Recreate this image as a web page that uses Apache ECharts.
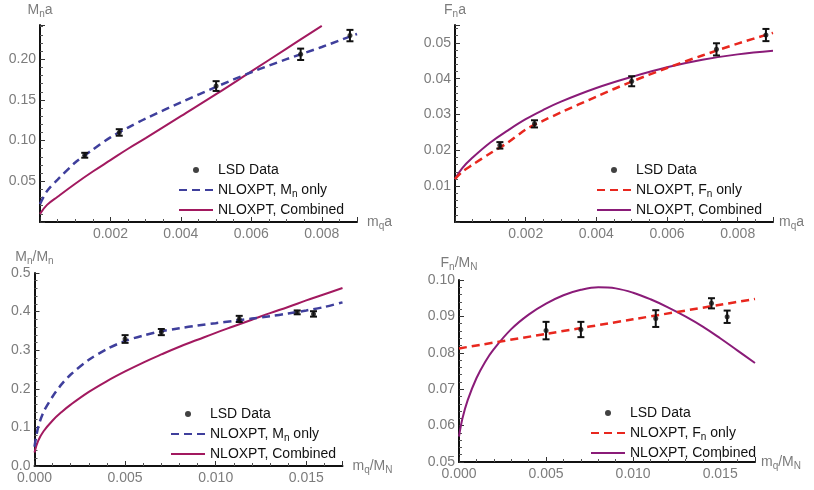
<!DOCTYPE html>
<html>
<head>
<meta charset="utf-8">
<script src="https://cdn.jsdelivr.net/npm/echarts@6/dist/echarts.min.js"></script>
<style>
html,body{margin:0;padding:0;background:#fff;}
#chart{width:814px;height:490px;}
</style>
</head>
<body>
<div id="chart"></div>
<script>
// ---------- data ----------
// lattice points (top row: x = m_q a)
const xTop = [0.00127, 0.00225, 0.0050, 0.0074, 0.0088];
const mnaVal = [0.082, 0.110, 0.167, 0.206, 0.229];
const mnaErr = [0.003, 0.004, 0.006, 0.007, 0.007];
const fnaVal = [0.0214, 0.0274, 0.0393, 0.0482, 0.0522];
const fnaErr = [0.0009, 0.0010, 0.0014, 0.0017, 0.0017];
// lattice points (bottom row: x = m_q / M_N)
const xBot = [0.0050, 0.0070, 0.0113, 0.0145, 0.0154];
const mrVal = [0.329, 0.347, 0.381, 0.398, 0.394];
const mrErr = [0.010, 0.008, 0.008, 0.005, 0.007];
const frVal = [0.0861, 0.0864, 0.0894, 0.0936, 0.0899];
const frErr = [0.0024, 0.0021, 0.0023, 0.0014, 0.0017];

// fit curves, top row
const cxTop = [0, 0.0002, 0.0005, 0.001, 0.0015, 0.002, 0.0025, 0.003, 0.004, 0.005, 0.006, 0.007, 0.008, 0.009];
const mnaFit = [0.022, 0.038, 0.052, 0.073, 0.089, 0.104, 0.116, 0.127, 0.147, 0.166, 0.184, 0.200, 0.215, 0.231];
const mnaComb = [0.010, 0.021, 0.031, 0.047, 0.062, 0.076, 0.090, 0.103, 0.130, 0.157, 0.185, 0.213, 0.241, null];
const fnaFit = [0.0120, 0.0140, 0.0160, 0.0192, 0.0222, 0.0258, 0.0283, 0.0306, 0.0350, 0.0392, 0.0430, 0.0465, 0.0498, 0.0528];
const fnaComb = [0.0120, 0.0150, 0.0180, 0.0222, 0.0256, 0.0287, 0.0313, 0.0336, 0.0374, 0.0405, 0.0432, 0.0453, 0.0468, 0.0478];

// fit curves, bottom row
const cxBot = [0, 0.0002, 0.0005, 0.001, 0.0015, 0.002, 0.003, 0.004, 0.005, 0.006, 0.007, 0.008, 0.009, 0.010, 0.011, 0.012, 0.013, 0.014, 0.015, 0.016, 0.017];
const mrFit = [0.050, 0.100, 0.140, 0.180, 0.212, 0.237, 0.275, 0.303, 0.324, 0.338, 0.349, 0.357, 0.364, 0.370, 0.376, 0.382, 0.388, 0.395, 0.403, 0.412, 0.424];
const mrComb = [0.035, 0.065, 0.090, 0.118, 0.140, 0.159, 0.192, 0.220, 0.245, 0.268, 0.289, 0.309, 0.327, 0.345, 0.362, 0.379, 0.396, 0.412, 0.429, 0.445, 0.461];
const frComb = [0.0570, 0.0620, 0.0670, 0.0730, 0.0775, 0.0810, 0.0865, 0.0905, 0.0935, 0.0958, 0.0973, 0.0980, 0.0977, 0.0965, 0.0947, 0.0925, 0.0900, 0.0872, 0.0840, 0.0806, 0.0772];
const cxFrFit = [0, 0.005, 0.010, 0.015, 0.017];
const frFit = [0.0812, 0.0852, 0.0892, 0.0932, 0.0948];

// tick settings
const xTicksTop = {min: 0, max: 0.009, interval: 0.002};
const xTicksBot = {min: 0, max: 0.017, interval: 0.005};
const yTicksTL = {min: 0, max: 0.242, interval: 0.05};
const yTicksTR = {min: 0, max: 0.055, interval: 0.01};
const yTicksBL = {min: 0, max: 0.5, interval: 0.1};
const yTicksBR = {min: 0.05, max: 0.10, interval: 0.01};

// ---------- styling ----------
const BLUE = '#3f3f9c';
const RED = '#e8271e';
const CRIMSON = '#a2195f';
const PURPLE = '#8a1b78';
const LABEL = '#7c7c7c';
const FONT = 'Liberation Sans, Arial, sans-serif';

const pairs = (xs, ys) => xs.map((x, i) => [x, ys[i]]);
const errData = (xs, v, e) => xs.map((x, i) => [x, v[i] - e[i], v[i] + e[i]]);

const subRich = {
  sub: {fontSize: 10, lineHeight: 10, verticalAlign: 'bottom', color: LABEL, fontFamily: FONT}
};

function xAxis(idx, t, name, decimals, showMin, showMax) {
  return {
    type: 'value', gridIndex: idx, min: t.min, max: t.max, interval: t.interval,
    name: name, nameLocation: 'end', nameGap: idx % 2 ? 6 : 10,
    nameTextStyle: {color: LABEL, fontSize: 14, lineHeight: 18, fontFamily: FONT, rich: subRich},
    axisLine: {onZero: false, lineStyle: {color: '#111', width: 2}},
    axisTick: {inside: true, length: 5, lineStyle: {color: '#333', width: 1}},
    minorTick: {show: true, splitNumber: t.interval === 0.002 ? 4 : 5, length: 3, lineStyle: {color: '#555'}},
    splitLine: {show: false},
    axisLabel: {color: LABEL, fontSize: 14, fontFamily: FONT, margin: 5,
      showMinLabel: showMin, showMaxLabel: showMax,
      formatter: v => v.toFixed(decimals)}
  };
}
function yAxis(idx, t, name, decimals, showMin, showMax, gap) {
  return {
    type: 'value', gridIndex: idx, min: t.min, max: t.max, interval: t.interval,
    name: name, nameLocation: 'end', nameGap: gap,
    nameTextStyle: {color: LABEL, fontSize: 14, lineHeight: 18, fontFamily: FONT, rich: subRich},
    axisLine: {onZero: false, lineStyle: {color: '#111', width: 2}},
    axisTick: {inside: true, length: 5, lineStyle: {color: '#333', width: 1}},
    minorTick: {show: true, splitNumber: 5, length: 3, lineStyle: {color: '#555'}},
    splitLine: {show: false},
    axisLabel: {color: LABEL, fontSize: 14, fontFamily: FONT, margin: 4,
      showMinLabel: showMin, showMaxLabel: showMax,
      formatter: v => v.toFixed(decimals)}
  };
}

function errRender(params, api) {
  const x = api.value(0);
  const lo = api.coord([x, api.value(1)]);
  const hi = api.coord([x, api.value(2)]);
  const w = 3.5;
  const st = {stroke: '#111', lineWidth: 2};
  return {type: 'group', children: [
    {type: 'line', shape: {x1: lo[0], y1: lo[1], x2: hi[0], y2: hi[1]}, style: st},
    {type: 'line', shape: {x1: lo[0] - w, y1: lo[1], x2: lo[0] + w, y2: lo[1]}, style: st},
    {type: 'line', shape: {x1: hi[0] - w, y1: hi[1], x2: hi[0] + w, y2: hi[1]}, style: st}
  ]};
}

function panelSeries(idx, xs, vals, errs, fitName, fitX, fitY, fitColor, combName, combX, combY, combColor) {
  return [
    {type: 'line', name: combName, xAxisIndex: idx, yAxisIndex: idx, data: pairs(combX, combY),
      showSymbol: false, symbol: 'none', smooth: 0.4, lineStyle: {color: combColor, width: 2},
      itemStyle: {color: combColor}, z: 2},
    {type: 'line', name: fitName, xAxisIndex: idx, yAxisIndex: idx, data: pairs(fitX, fitY),
      showSymbol: false, symbol: 'none', smooth: 0.3,
      lineStyle: {color: fitColor, width: 2.5, type: [8, 5]}, itemStyle: {color: fitColor}, z: 3},
    {type: 'custom', xAxisIndex: idx, yAxisIndex: idx, renderItem: errRender,
      data: errData(xs, vals, errs), encode: {x: 0, y: [1, 2]}, z: 5, silent: true},
    {type: 'scatter', name: 'LSD Data', xAxisIndex: idx, yAxisIndex: idx, data: pairs(xs, vals),
      symbol: 'circle', symbolSize: 5, itemStyle: {color: '#111'}, z: 6}
  ];
}

const legendLabels = {
  'LSD Data': 'LSD Data',
  'NLOXPT, Mn only': 'NLOXPT, M{s|n} only',
  'NLOXPT, Fn only': 'NLOXPT, F{s|n} only',
  'NLOXPT, Combined': 'NLOXPT, Combined',
  'NLOXPT, Combined ': 'NLOXPT, Combined'
};
const noSym = {opacity: 0};
function legend(left, top, fitName, combName) {
  return {
    orient: 'vertical', left: left, top: top, itemWidth: 34, itemHeight: 6, itemGap: 2,
    data: ['LSD Data', {name: fitName, itemStyle: noSym}, {name: combName, itemStyle: noSym}],
    selectedMode: false,
    formatter: n => legendLabels[n],
    textStyle: {color: '#111', fontSize: 14, lineHeight: 18, fontFamily: FONT,
      rich: {s: {fontSize: 10, lineHeight: 10, verticalAlign: 'bottom', color: '#111', fontFamily: FONT}}}
  };
}

const option = {
  animation: false,
  backgroundColor: '#fff',
  grid: [
    {left: 40, top: 25, width: 317, height: 197},
    {left: 455, top: 25, width: 318, height: 197},
    {left: 34.5, top: 273, width: 308, height: 193},
    {left: 459, top: 280, width: 296, height: 182}
  ],
  xAxis: [
    xAxis(0, xTicksTop, 'm{sub|q}a', 3, false, false),
    xAxis(1, xTicksTop, 'm{sub|q}a', 3, false, false),
    xAxis(2, xTicksBot, 'm{sub|q}/M{sub|N}', 3, true, false),
    xAxis(3, xTicksBot, 'm{sub|q}/M{sub|N}', 3, true, false)
  ],
  yAxis: [
    yAxis(0, yTicksTL, 'M{sub|n}a', 2, false, false, 6),
    yAxis(1, yTicksTR, 'F{sub|n}a', 2, false, false, 6),
    yAxis(2, yTicksBL, 'M{sub|n}/M{sub|n}', 1, true, true, 4),
    yAxis(3, yTicksBR, 'F{sub|n}/M{sub|N}', 2, true, true, 8)
  ],
  legend: [
    legend(173, 156, 'NLOXPT, Mn only', 'NLOXPT, Combined'),
    legend(591, 156, 'NLOXPT, Fn only', 'NLOXPT, Combined '),
    legend(165, 400, 'NLOXPT, Mn only', 'NLOXPT, Combined'),
    legend(585, 399, 'NLOXPT, Fn only', 'NLOXPT, Combined ')
  ],
  series: [].concat(
    panelSeries(0, xTop, mnaVal, mnaErr, 'NLOXPT, Mn only', cxTop, mnaFit, BLUE, 'NLOXPT, Combined', cxTop, mnaComb, CRIMSON),
    panelSeries(1, xTop, fnaVal, fnaErr, 'NLOXPT, Fn only', cxTop, fnaFit, RED, 'NLOXPT, Combined ', cxTop, fnaComb, PURPLE),
    panelSeries(2, xBot, mrVal, mrErr, 'NLOXPT, Mn only', cxBot, mrFit, BLUE, 'NLOXPT, Combined', cxBot, mrComb, CRIMSON),
    panelSeries(3, xBot, frVal, frErr, 'NLOXPT, Fn only', cxFrFit, frFit, RED, 'NLOXPT, Combined ', cxBot, frComb, PURPLE)
  )
};

const chart = echarts.init(document.getElementById('chart'), null, {renderer: 'canvas'});
chart.setOption(option);
</script>
</body>
</html>
